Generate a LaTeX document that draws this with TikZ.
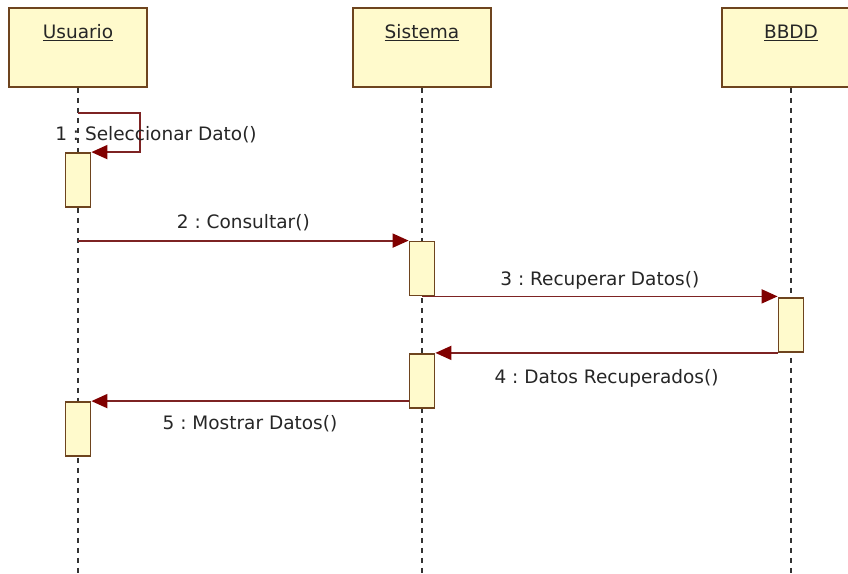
\documentclass[tikz,border=0pt]{standalone}
\usepackage{fontspec}
\setmainfont{DejaVu Sans}
\usetikzlibrary{arrows.meta}
\definecolor{boxfill}{RGB}{255,250,204}
\definecolor{boxline}{RGB}{110,68,30}
\definecolor{msgred}{RGB}{125,35,35}
\definecolor{tipred}{RGB}{128,0,0}
\frenchspacing
\begin{document}
\begin{tikzpicture}[x=1pt,y=-1pt]
\tikzstyle{every node}+=[inner sep=0pt,font=\fontsize{18.5}{20}\selectfont,text=black!85]
\tikzstyle{head}=[draw=boxline,fill=boxfill,line width=1.8pt,minimum width=138pt,minimum height=79pt]
\tikzstyle{act}=[draw=boxline,fill=boxfill,line width=1.8pt,minimum width=25pt,minimum height=54pt]
\tikzstyle{lifeline}=[draw=black!80,line width=1.6pt,dash pattern=on 5pt off 5pt]
\tikzstyle{msg}=[draw=msgred,line width=1.8pt,-{Triangle[length=16pt,width=14pt,color=tipred]}]
\fill [white] (0,0) rectangle (848,573);
\useasboundingbox (0,0) rectangle (848,573);
\node [head] (usuario) at (78,47.5) {};
\node [anchor=base] (usuarioTxt) at (78,38.5) {\underline{Usuario}};
\node [head] (sistema) at (422,47.5) {};
\node [anchor=base] (sistemaTxt) at (422,38.5) {\underline{Sistema}};
\node [head] (bbdd) at (791,47.5) {};
\node [anchor=base] (bbddTxt) at (791,38.5) {\underline{BBDD}};
\coordinate (usuarioEnd) at (78,573);
\coordinate (sistemaEnd) at (422,573);
\coordinate (bbddEnd) at (791,573);
\draw [lifeline] (usuario.south) -- (usuarioEnd);
\draw [lifeline] (sistema.south) -- (sistemaEnd);
\draw [lifeline] (bbdd.south) -- (bbddEnd);
\node [act] (act1) at (78,180) {};
\node [act] (act2) at (422,268.5) {};
\node [act] (act3) at (791,325) {};
\node [act] (act4) at (422,381) {};
\node [act] (act5) at (78,429) {};
\coordinate (self1) at (78,113);
\coordinate (self1r) at (140,113);
\draw [msg] (self1) -- (self1r) |- (act1.north east);
\node (msg1) at (156,135) {1 : Seleccionar Dato()};
\draw [msg] (act2.north west -| usuario) -- (act2.north west) node [midway,above=9pt] {2 : Consultar()};
\draw [msg] (act2.south) -- (act2.south -| act3.west) node [midway,above=6pt] {3 : Recuperar Datos()};
\draw [msg] (act3.south west) -- (act3.south west -| act4.east) node [midway,below=16pt] {4 : Datos Recuperados()};
\draw [msg] (act5.north east -| act4.west) -- (act5.north east) node [midway,below=13pt] {5 : Mostrar Datos()};
\end{tikzpicture}
\end{document}
